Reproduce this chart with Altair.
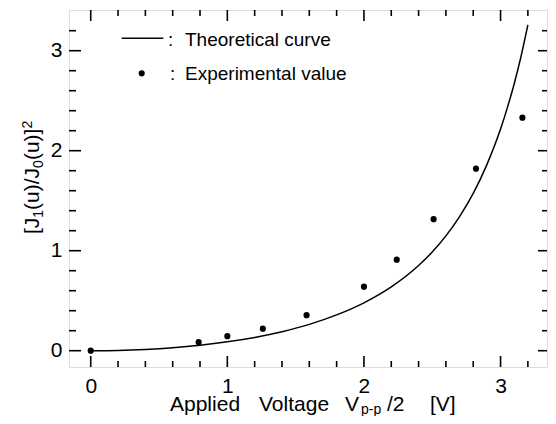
import altair as alt
import pandas as pd

# ---- data ----
curve_x = [0.0, 0.2, 0.4, 0.6, 0.8, 1.0, 1.2, 1.4, 1.6, 1.8, 2.0, 2.2, 2.4, 2.5,
           2.6, 2.7, 2.8, 2.9, 3.0, 3.05, 3.1, 3.15, 3.2]
curve_y = [0.0, 0.003, 0.013, 0.030, 0.055, 0.089, 0.133, 0.190, 0.263, 0.358,
           0.479, 0.638, 0.852, 0.987, 1.148, 1.341, 1.573, 1.861, 2.216, 2.431,
           2.670, 2.944, 3.258]
exp_x = [0.0, 0.79, 1.0, 1.26, 1.58, 2.0, 2.24, 2.51, 2.82, 3.16]
exp_y = [0.0, 0.085, 0.145, 0.22, 0.355, 0.64, 0.91, 1.315, 1.82, 2.33]

x_major = [0, 1, 2, 3]
x_minor = [0.2, 0.4, 0.6, 0.8, 1.2, 1.4, 1.6, 1.8, 2.2, 2.4, 2.6, 2.8, 3.2]
y_major = [0, 1, 2, 3]
y_minor = [0.2, 0.4, 0.6, 0.8, 1.2, 1.4, 1.6, 1.8, 2.2, 2.4, 2.6, 2.8, 3.2]

legend_line_label = "Theoretical  curve"
legend_point_label = "Experimental  value"

# ---- layout ----
W, H = 478, 357
FONT = "Liberation Sans"
xs = alt.Scale(domain=[-0.159, 3.34], nice=False, zero=False)
ys = alt.Scale(domain=[-0.163, 3.407], nice=False, zero=False)
xaxis = alt.Axis(values=x_major, ticks=False, domain=False, grid=False, title=None,
                 labelFontSize=21, labelFont=FONT, labelColor="black",
                 labelPadding=8, format="d")
yaxis = alt.Axis(values=y_major, ticks=False, domain=False, grid=False, title=None,
                 labelFontSize=21, labelFont=FONT, labelColor="black",
                 labelPadding=7, format="d")


def X(f="x"):
    return alt.X(f"{f}:Q", scale=xs, axis=xaxis)


def Y(f="y"):
    return alt.Y(f"{f}:Q", scale=ys, axis=yaxis)


one = pd.DataFrame({"a": [0]})

curve = alt.Chart(pd.DataFrame({"x": curve_x, "y": curve_y})).mark_line(
    color="black", strokeWidth=1.5, interpolate="monotone"
).encode(x=X(), y=Y())

points = alt.Chart(pd.DataFrame({"x": exp_x, "y": exp_y})).mark_circle(
    color="black", size=38, opacity=1
).encode(x=X(), y=Y())

layers = [curve, points]


def xticks(vals, length):
    d = pd.DataFrame({"x": vals})
    bottom = alt.Chart(d).mark_rule(color="black", strokeWidth=1.6).encode(
        x=X(), y=alt.value(H), y2=alt.value(H - length))
    top = alt.Chart(d).mark_rule(color="black", strokeWidth=1.6).encode(
        x=X(), y=alt.value(0), y2=alt.value(length))
    return [bottom, top]


def yticks(vals, length, rlength):
    d = pd.DataFrame({"y": vals})
    left = alt.Chart(d).mark_rule(color="black", strokeWidth=1.6).encode(
        y=Y(), x=alt.value(0), x2=alt.value(length))
    right = alt.Chart(d).mark_rule(color="black", strokeWidth=1.6).encode(
        y=Y(), x=alt.value(W), x2=alt.value(W - rlength))
    return [left, right]


layers += xticks(x_major, 11) + xticks(x_minor, 6)
layers += yticks(y_major, 12, 9) + yticks(y_minor, 7, 5)


def txt(s, x, y, size, align="left", baseline="alphabetic", angle=0):
    return alt.Chart(one).mark_text(
        text=s, font=FONT, fontSize=size, color="black", align=align,
        baseline=baseline, angle=angle
    ).encode(x=alt.value(x), y=alt.value(y))


# legend
layers.append(alt.Chart(one).mark_rule(color="black", strokeWidth=1.5).encode(
    x=alt.value(52.7), x2=alt.value(94.3), y=alt.value(28.3)))
layers.append(alt.Chart(one).mark_circle(color="black", size=38, opacity=1).encode(
    x=alt.value(72.7), y=alt.value(63.3)))
layers.append(txt(":", 99, 35.7, 19))
layers.append(txt(legend_line_label, 116, 35.7, 19))
layers.append(txt(":", 101, 70, 19))
layers.append(txt(legend_point_label, 116, 70, 19))

# x title (with subscript)
layers.append(txt("Applied", 101, 401, 21))
layers.append(txt("Voltage", 190, 401, 21))
layers.append(txt("V", 276, 401, 21))
layers.append(txt("p-p", 292, 403.5, 14))
layers.append(txt("/2", 318, 401, 21))
layers.append(txt("[V]", 361, 401, 21))

# y title (rotated, with sub/superscripts), pieces in reading order
y0 = 224
layers.append(txt("[J", -30, y0, 21, angle=270))
layers.append(txt("1", -26.5, y0 - 16.3, 14, angle=270))
layers.append(txt("(u)/J", -30, y0 - 24.1, 21, angle=270))
layers.append(txt("0", -26.5, y0 - 66.1, 14, angle=270))
layers.append(txt("(u)]", -30, y0 - 73.9, 21, angle=270))
layers.append(txt("2", -37, y0 - 105.4, 14, angle=270))

chart = alt.layer(*layers).properties(
    width=W, height=H,
    autosize=alt.AutoSizeParams(type="none"),
    padding={"left": 61, "top": 2, "right": 1, "bottom": 49},
).configure_view(stroke="black", strokeWidth=2).configure(background="white")

chart.save("out.html", embed_options={"renderer": "svg", "actions": False})
